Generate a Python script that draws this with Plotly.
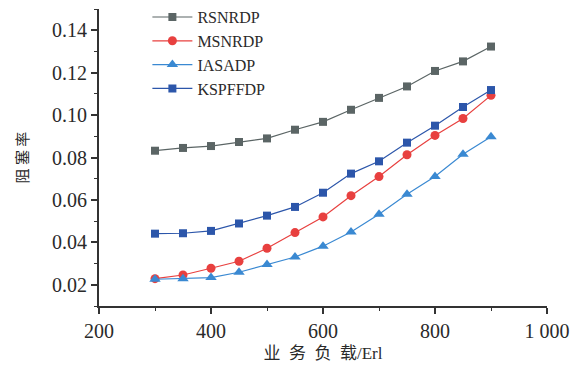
import plotly.graph_objects as go

load = [300, 350, 400, 450, 500, 550, 600, 650, 700, 750, 800, 850, 900]
rsnrdp = [0.0832, 0.0845, 0.0854, 0.0873, 0.0890, 0.0931, 0.0968, 0.1025, 0.1081, 0.1135, 0.1208, 0.1253, 0.1323]
msnrdp = [0.0229, 0.0246, 0.0278, 0.0311, 0.0372, 0.0446, 0.0520, 0.0620, 0.0710, 0.0813, 0.0904, 0.0984, 0.1093]
iasadp = [0.0226, 0.0229, 0.0234, 0.0259, 0.0296, 0.0331, 0.0382, 0.0449, 0.0533, 0.0627, 0.0710, 0.0815, 0.0898]
kspffdp = [0.0441, 0.0443, 0.0454, 0.0489, 0.0526, 0.0567, 0.0634, 0.0724, 0.0782, 0.0870, 0.0950, 0.1038, 0.1118]

x_ticks = [200, 400, 600, 800, 1000]
x_ticktext = ["200", "400", "600", "800", "1 000"]
y_ticks = [0.02, 0.04, 0.06, 0.08, 0.10, 0.12, 0.14]
y_ticktext = ["0.02", "0.04", "0.06", "0.08", "0.10", "0.12", "0.14"]

series = [
    ("RSNRDP", rsnrdp, "#5b6565", "square", 8),
    ("MSNRDP", msnrdp, "#e8403f", "circle", 9),
    ("IASADP", iasadp, "#3a89d2", "triangle-up", 10),
    ("KSPFFDP", kspffdp, "#2c56aa", "square", 8),
]

fig = go.Figure()
for name, vals, color, sym, size in series:
    fig.add_trace(go.Scatter(
        x=load, y=vals, name=name, mode="lines+markers",
        line=dict(color=color, width=1.2),
        marker=dict(symbol=sym, size=size, color=color),
    ))

serif = "'Liberation Serif', 'Times New Roman', Times, serif"
mixed = "'Liberation Serif', 'Noto Sans CJK SC', serif"
cjk = "'Noto Sans CJK SC', sans-serif"
fig.update_layout(
    width=576, height=367,
    margin=dict(l=99, r=29, t=9, b=61, autoexpand=False),
    paper_bgcolor="white", plot_bgcolor="white",
    font=dict(family=serif, size=20, color="#2a2a2a"),
    showlegend=True,
    legend=dict(x=0.108, y=1.03, xanchor="left", yanchor="top",
                bgcolor="rgba(0,0,0,0)", font=dict(size=16, family=serif, color="#2a2a2a"),
                tracegroupgap=0, itemwidth=40),
    xaxis=dict(
        range=[200, 1000], tickvals=x_ticks, ticktext=x_ticktext, automargin=False,
        showgrid=False, zeroline=False, showline=True, linecolor="#333333", linewidth=2,
        ticks="outside", ticklen=6, tickwidth=1.5, tickcolor="#333333",
        tickfont=dict(family=serif, size=20),
        minor=dict(ticks="outside", ticklen=3, tickwidth=1.2, tickcolor="#333333", dtick=100, showgrid=False),
        title=dict(text="业\u00a0\u00a0务\u00a0\u00a0负\u00a0\u00a0载/Erl",
                   font=dict(family=mixed, size=17, color="#2a2a2a"), standoff=6),
    ),
    yaxis=dict(
        range=[0.01, 0.15], tickvals=y_ticks, ticktext=y_ticktext, automargin=False,
        showgrid=False, zeroline=False, showline=True, linecolor="#333333", linewidth=2,
        ticks="outside", ticklen=6, tickwidth=1.5, tickcolor="#333333",
        tickfont=dict(family=serif, size=20),
        minor=dict(ticks="outside", ticklen=3, tickwidth=1.2, tickcolor="#333333", dtick=0.01, showgrid=False),
        title=dict(text="阻 塞 率", font=dict(family=cjk, size=15, color="#2a2a2a"), standoff=20),
    ),
)

fig.write_html("out.html", config={"displayModeBar": False},
               post_script="document.body.style.margin='0';document.body.style.overflow='hidden';")
